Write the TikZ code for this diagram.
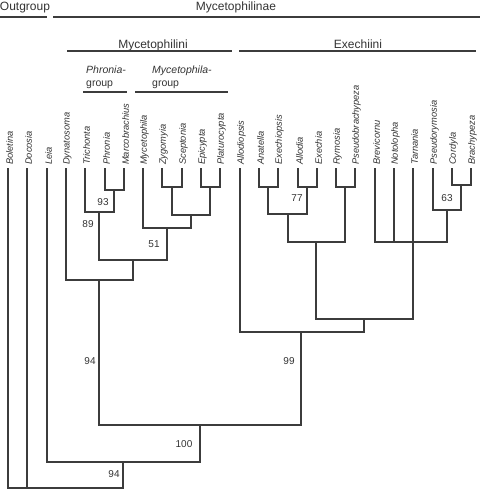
\documentclass[tikz,border=0pt]{standalone}
\usepackage{fontspec}
\setmainfont{Liberation Sans}
\definecolor{linec}{HTML}{3C3C3C}
\definecolor{txtc}{HTML}{333333}
\begin{document}
\begin{tikzpicture}[x=1pt,y=-1pt,
  br/.style={draw=linec, line width=1.6pt},
  hl/.style={draw=linec, line width=1.5pt},
  taxon/.style={rotate=90, anchor=west, font=\fontsize{9.3}{10}\selectfont\itshape, text=txtc, inner sep=0pt},
  head/.style={font=\fontsize{12}{14}\selectfont, text=txtc, anchor=base, inner sep=0pt},
  grp/.style={font=\fontsize{10.5}{12}\selectfont, text=txtc, anchor=base west, inner sep=0pt},
  bootval/.style={font=\fontsize{10}{12}\selectfont, text=txtc, anchor=base, inner sep=0pt}]
\useasboundingbox (0,0) rectangle (480,489);
% headers
\node[head] (hog) at (25,11) {Outgroup};
\coordinate (og1) at (0,17); \coordinate (og2) at (47,17);
\draw[hl] (og1) -- (og2);
\node[head] (hmy) at (236,11) {Mycetophilinae};
\coordinate (my1) at (53,17); \coordinate (my2) at (480,17);
\draw[hl] (my1) -- (my2);
\node[head] (hmi) at (153,49) {Mycetophilini};
\coordinate (mi1) at (67,51); \coordinate (mi2) at (232,51);
\draw[hl] (mi1) -- (mi2);
\node[head] (hex) at (358,49) {Exechiini};
\coordinate (ex1) at (239,51); \coordinate (ex2) at (476,51);
\draw[hl] (ex1) -- (ex2);
\node[grp] (gp1) at (86,74) {\itshape Phronia-};
\node[grp] (gp2) at (86,87) {group};
\coordinate (pg1) at (83,92); \coordinate (pg2) at (127,92);
\draw[hl] (pg1) -- (pg2);
\node[grp] (gm1) at (152,74) {\itshape Mycetophila-};
\node[grp] (gm2) at (152,87) {group};
\coordinate (mg1) at (135,92); \coordinate (mg2) at (228,92);
\draw[hl] (mg1) -- (mg2);
% tips
\foreach \n [count=\i from 0] in {Boletina,Docosia,Leia,Dynatosoma,Trichonta,Phronia,Marcobrachius,Mycetophila,Zygomyia,Sceptonia,Epicypta,Platurocypta,Allodiopsis,Anatella,Exechiopsis,Allodia,Exechia,Rymosia,Pseudobrachypeza,Brevicornu,Notolopha,Tarnania,Pseudorymosia,Cordyla,Brachypeza}{
  \coordinate (t\i) at ({round(8+19.3*\i)},168);
  \node[taxon] (l\i) at ({round(8+19.3*\i)+1.5},165) {\n};
}
% Mycetophilini
\coordinate (nPM) at (114,190);
\draw[br] (t5) |- (nPM) -| (t6);
\coordinate (nTP) at (99,212);
\draw[br] (t4) |- (nTP) -| (nPM);
\coordinate (nZS) at (172,187);
\draw[br] (t8) |- (nZS) -| (t9);
\coordinate (nEP) at (210,187);
\draw[br] (t10) |- (nEP) -| (t11);
\coordinate (nZE) at (191,215);
\draw[br] (nZS) |- (nZE) -| (nEP);
\coordinate (nMy) at (167,228);
\draw[br] (t7) |- (nMy) -| (nZE);
\coordinate (nPG) at (133,260);
\draw[br] (nTP) |- (nPG) -| (nMy);
\coordinate (nDy) at (99,280);
\draw[br] (t3) |- (nDy) -| (nPG);
% Exechiini
\coordinate (nAE) at (268,187);
\draw[br] (t13) |- (nAE) -| (t14);
\coordinate (nAl) at (307,187);
\draw[br] (t15) |- (nAl) -| (t16);
\coordinate (nAA) at (288,214);
\draw[br] (nAE) |- (nAA) -| (nAl);
\coordinate (nRP) at (345,187);
\draw[br] (t17) |- (nRP) -| (t18);
\coordinate (nAR) at (316,242);
\draw[br] (nAA) |- (nAR) -| (nRP);
\coordinate (nCB) at (461,185);
\draw[br] (t23) |- (nCB) -| (t24);
\coordinate (nPC) at (447,210);
\draw[br] (t22) |- (nPC) -| (nCB);
\coordinate (nBr) at (t21 |- 0,242);
\draw[br] (t19) |- (nBr) -| (nPC);
\draw[br] (t20) -- (t20 |- nBr);
\draw[br] (t21) -- (nBr);
\coordinate (nEx) at (364,319);
\draw[br] (nAR) |- (nEx) -| (nBr);
\coordinate (nAll) at (301,332);
\draw[br] (t12) |- (nAll) -| (nEx);
% deeper
\coordinate (nMyc) at (200,425);
\draw[br] (nDy) |- (nMyc) -| (nAll);
\coordinate (nLe) at (123,462);
\draw[br] (t2) |- (nLe) -| (nMyc);
\coordinate (root) at (t1 |- 0,487.7);
\draw[br] (t0) |- (root) -| (nLe);
\draw[br] (t1) -- (root);
% support values
\node[bootval] (b93) at (103,205.5) {93};
\node[bootval] (b89) at (88,227.5) {89};
\node[bootval] (b51) at (154,247.5) {51};
\node[bootval] (b77) at (297,201.5) {77};
\node[bootval] (b63) at (447,201.5) {63};
\node[bootval] (b94a) at (90,364.5) {94};
\node[bootval] (b99) at (289,364.5) {99};
\node[bootval] (b100) at (184,447.5) {100};
\node[bootval] (b94b) at (114,477.5) {94};
\end{tikzpicture}
\end{document}
